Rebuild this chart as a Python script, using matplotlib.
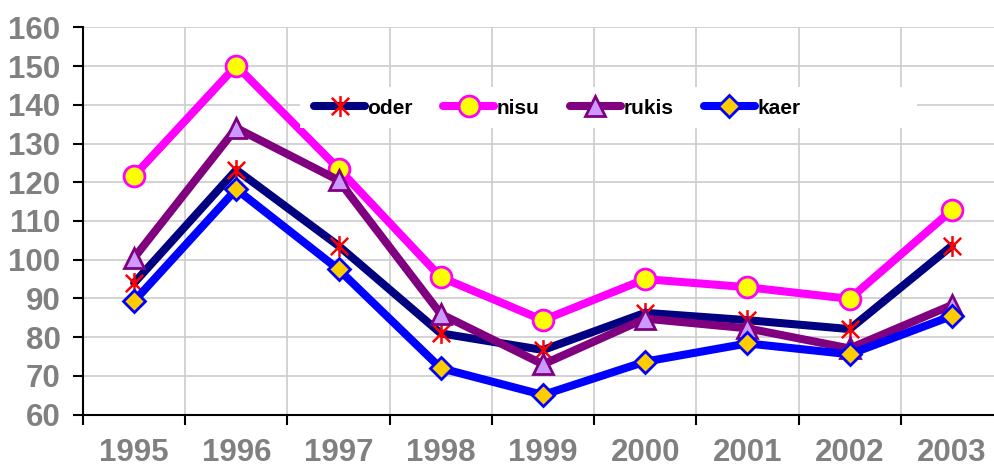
import matplotlib
matplotlib.use("Agg")
import matplotlib.pyplot as plt
from matplotlib.path import Path
from matplotlib.patches import Rectangle
import numpy as np

years = ["1995", "1996", "1997", "1998", "1999", "2000", "2001", "2002", "2003"]
oder = [94, 123.2, 103.6, 81, 76.7, 86.3, 84.4, 82.1, 103.6]
nisu = [121.7, 150.1, 123.5, 95.5, 84.4, 95, 92.9, 89.9, 112.8]
rukis = [100.5, 134, 120.5, 86, 73, 84.8, 82.3, 77.1, 88.3]
kaer = [89.3, 118.2, 97.5, 72, 65.1, 73.7, 78.4, 75.6, 85.5]
yticks = [60, 70, 80, 90, 100, 110, 120, 130, 140, 150, 160]

plt.rcParams['font.family'] = ['Liberation Sans', 'DejaVu Sans']

W, H = 994, 470
fig = plt.figure(figsize=(W / 100, H / 100), dpi=100)
ax = fig.add_axes([83 / W, (H - 414.7) / H, 920 / W, (414.7 - 27.3) / H])

x = np.arange(len(years)) + 0.5

star = Path([(-1, -1), (1, 1), (-1, 1), (1, -1), (0, -1.2), (0, 1.2)],
            [Path.MOVETO, Path.LINETO, Path.MOVETO, Path.LINETO, Path.MOVETO, Path.LINETO])

lw = 5.8
ax.plot(x, oder, color='#000080', lw=lw, marker=star, ms=15, mfc='none',
        mec='#FF0000', mew=1.8, label='oder', zorder=3, solid_capstyle='round')
ax.plot(x, nisu, color='#FF00FF', lw=lw, marker='o', ms=15, mfc='#FFFF00',
        mec='#FF00FF', mew=2, label='nisu', zorder=3, solid_capstyle='round')
ax.plot(x, rukis, color='#800080', lw=lw, marker='^', ms=15, mfc='#CC99FF',
        mec='#800080', mew=2, label='rukis', zorder=3, solid_capstyle='round')
ax.plot(x, kaer, color='#0000FF', lw=lw, marker='D', ms=11, mfc='#FFCC00',
        mec='#0000FF', mew=2, label='kaer', zorder=3, solid_capstyle='round')

ax.set_xlim(0, len(years))
ax.set_ylim(60, 160)
ax.set_yticks(yticks)
ax.set_yticklabels([str(t) for t in yticks], fontsize=22.5, fontweight='bold', color='#808080')
ax.set_xticks(np.arange(len(years) + 1))
ax.set_xticklabels([])
ax.set_xticks(x, minor=True)
ax.set_xticklabels(years, minor=True, fontsize=22.5, fontweight='bold', color='#808080')
ax.tick_params(axis='x', which='minor', length=0, pad=17)
ax.tick_params(axis='x', which='major', length=7.2, width=1.5, color='black', direction='out')
ax.tick_params(axis='y', length=7.2, width=1.5, color='black', direction='out', pad=9)

ax.grid(True, which='major', color='#CCCCCC', lw=1.2, zorder=0)
ax.set_axisbelow(True)
for s in ['top', 'right']:
    ax.spines[s].set_visible(False)
for s in ['left', 'bottom']:
    ax.spines[s].set_linewidth(1.5)
    ax.spines[s].set_color('black')

# white legend box (Excel-style, larger than its content)
box = Rectangle((300 / W, (H - 128) / H), 617 / W, 41 / H, transform=fig.transFigure,
                facecolor='white', edgecolor='none', zorder=4)
fig.add_artist(box)

leg = fig.legend(loc='center left', bbox_to_anchor=(314 / W, (H - 108) / H),
                 ncol=4, frameon=False, prop={'weight': 'bold', 'size': 15},
                 handlelength=2.45, handletextpad=0.12, columnspacing=1.45,
                 borderaxespad=0, borderpad=0)
leg.set_zorder(5)

fig.savefig("out.png", dpi=100)
